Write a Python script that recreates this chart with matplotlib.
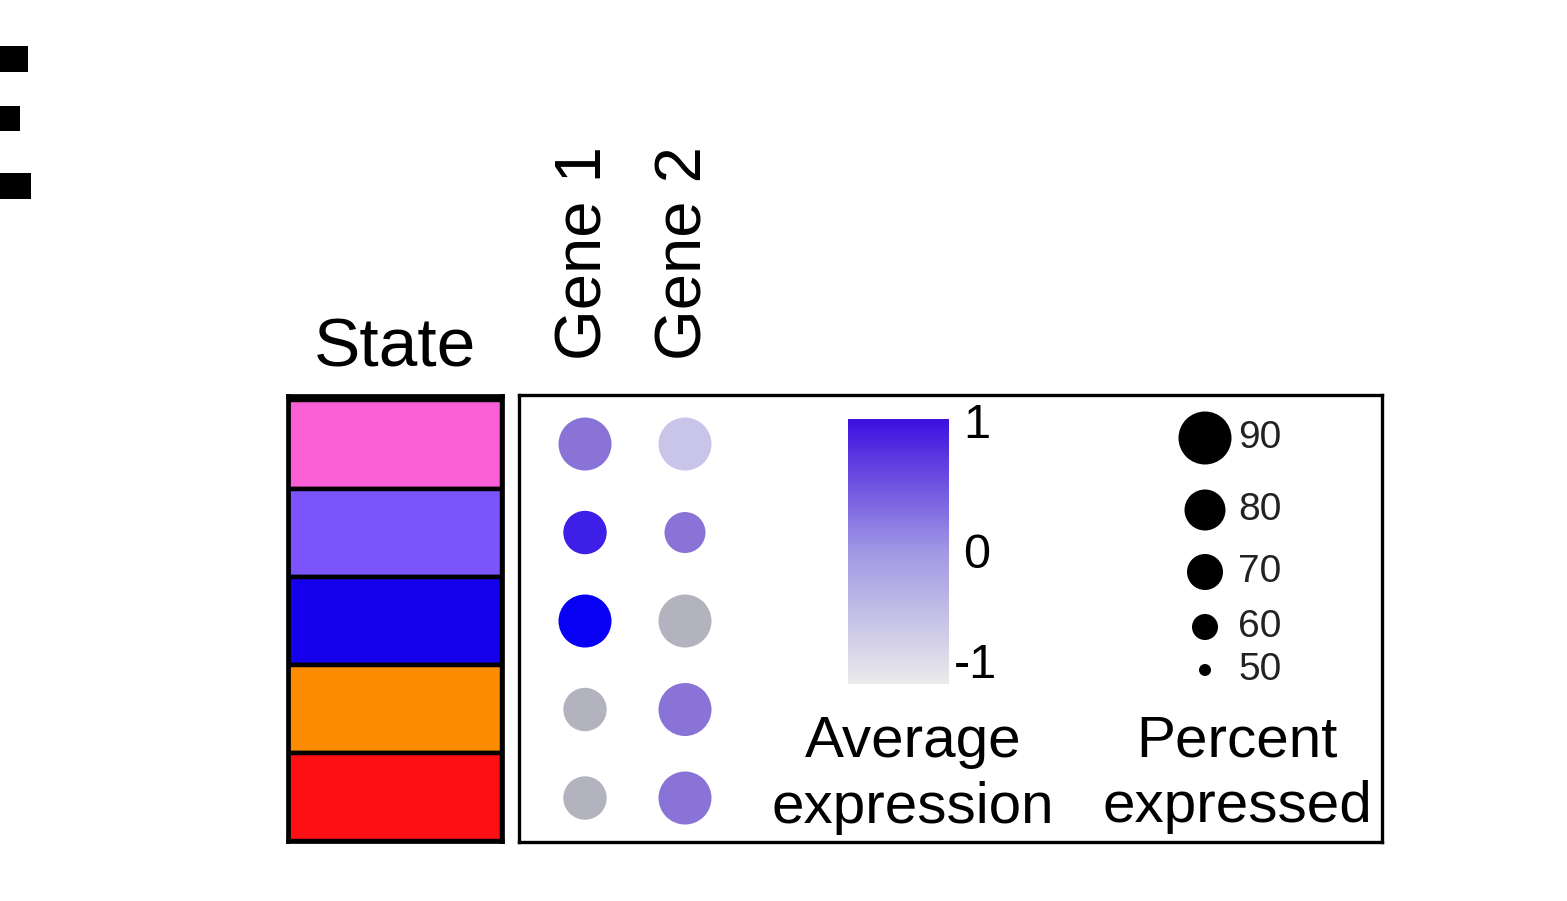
import numpy as np
import matplotlib
matplotlib.use("Agg")
import matplotlib.pyplot as plt
from matplotlib.colors import LinearSegmentedColormap, Normalize
from matplotlib.patches import Rectangle

plt.rcParams['font.family'] = ['Liberation Sans', 'DejaVu Sans']

# ---------------- data ----------------
genes = ["Gene 1", "Gene 2"]
state_colors = ["#FA5FD6", "#7B55FB", "#1400EB", "#FD8C00", "#FE0F14"]
avg_expr_gene1 = [0.4, 0.8, 1.0, -1.0, -1.0]
avg_expr_gene2 = [0.0, 0.4, -1.0, 0.4, 0.4]
pct_expr_gene1 = [90, 82, 90, 82, 82]
pct_expr_gene2 = [90, 80, 90, 90, 90]
size_legend_pcts = [90, 80, 70, 60, 50]
cbar_ticks = ["1", "0", "-1"]

# ---------------- scales ----------------
W, H = 1567, 901
scale_pct = [50, 60, 70, 80, 90]
scale_diam_px = [12, 26, 36, 41, 53]


def pct_to_s(p):
    d = np.interp(p, scale_pct, scale_diam_px)
    return (d * 0.72) ** 2


dot_cmap = LinearSegmentedColormap.from_list(
    "dot", [(0.0, "#B3B3BF"), (0.5, "#C9C6E8"), (0.7, "#8A74D6"),
            (0.9, "#3F20E8"), (1.0, "#0800F5")])
bar_cmap = LinearSegmentedColormap.from_list(
    "bar", [(0.0, "#EBEBEB"), (0.5, "#A198E4"), (1.0, "#3F10E0")])
norm = Normalize(-1, 1)


def fbox(x0, y0, x1, y1):
    return [x0 / W, 1 - y1 / H, (x1 - x0) / W, (y1 - y0) / H]


fig = plt.figure(figsize=(W / 100, H / 100), dpi=100)

# ---------- state bar ----------
axs = fig.add_axes(fbox(288, 396, 502, 841))
n = len(state_colors)
axs.barh(np.arange(n), [1] * n, height=1.0, left=0, color=state_colors,
         edgecolor="black", linewidth=3.2)
axs.set_xlim(0, 1)
axs.set_ylim(n - 0.5, -0.55)
axs.set_xticks([]); axs.set_yticks([])
for sp in axs.spines.values():
    sp.set_linewidth(3.4)
axs.text(0.5, 1 + 29 / 445, "State", transform=axs.transAxes, ha="center",
         va="baseline", fontsize=50)

# ---------- dot plot ----------
ax = fig.add_axes(fbox(519, 395, 1382, 842))
ax.set_xlim(-0.66, 7.97)
ax.set_ylim(4.497, -0.554)
rows = np.arange(n)
for gi, (ex, pc) in enumerate([(avg_expr_gene1, pct_expr_gene1),
                               (avg_expr_gene2, pct_expr_gene2)]):
    ax.scatter([gi] * n, rows, s=pct_to_s(np.array(pc)), c=ex, cmap=dot_cmap,
               norm=norm, linewidths=0, zorder=3)
    ax.text(gi, 1 + 35 / 447, genes[gi], rotation=90, ha="center", va="bottom",
            fontsize=47, transform=ax.get_xaxis_transform())
ax.set_xticks([]); ax.set_yticks([])
for sp in ax.spines.values():
    sp.set_linewidth(2.4)

# ---------- colorbar ----------
cax = fig.add_axes(fbox(848, 419, 948, 684))
grad = np.linspace(1, -1, 256).reshape(-1, 1)
cax.imshow(grad, aspect="auto", cmap=bar_cmap, norm=norm,
           extent=[0, 1, -1, 1])
cax.axis("off")

ov = fig.add_axes([0, 0, 1, 1], zorder=5)
ov.set_xlim(0, W); ov.set_ylim(H, 0)
ov.axis("off")
ov.patch.set_alpha(0)

for lab, y in zip(cbar_ticks, [425, 555, 665]):
    ov.text(990 if lab != "-1" else 997, y, lab, ha="right", va="center",
            fontsize=35)

ov.text(913, 823, "Average\nexpression", ha="center", va="baseline",
        fontsize=42, linespacing=1.28)
ov.text(1237, 822, "Percent\nexpressed", ha="center", va="baseline",
        fontsize=42, linespacing=1.28)

# size legend
leg_y = [438, 510, 572, 627, 670]
ov.scatter([1205] * len(size_legend_pcts), leg_y,
           s=pct_to_s(np.array(size_legend_pcts)), color="black",
           linewidths=0)
for p, y in zip(size_legend_pcts, leg_y):
    ov.text(1238, y, str(p), ha="left", va="center", fontsize=28,
            color="#222222")

# clipped black blocks on left edge
for (x0, y0, w, h) in [(0, 46, 28, 26), (0, 106, 20, 25), (0, 173, 31, 26)]:
    ov.add_patch(Rectangle((x0, y0), w, h, color="black", lw=0))

fig.savefig("out.png", dpi=100, facecolor="white")
